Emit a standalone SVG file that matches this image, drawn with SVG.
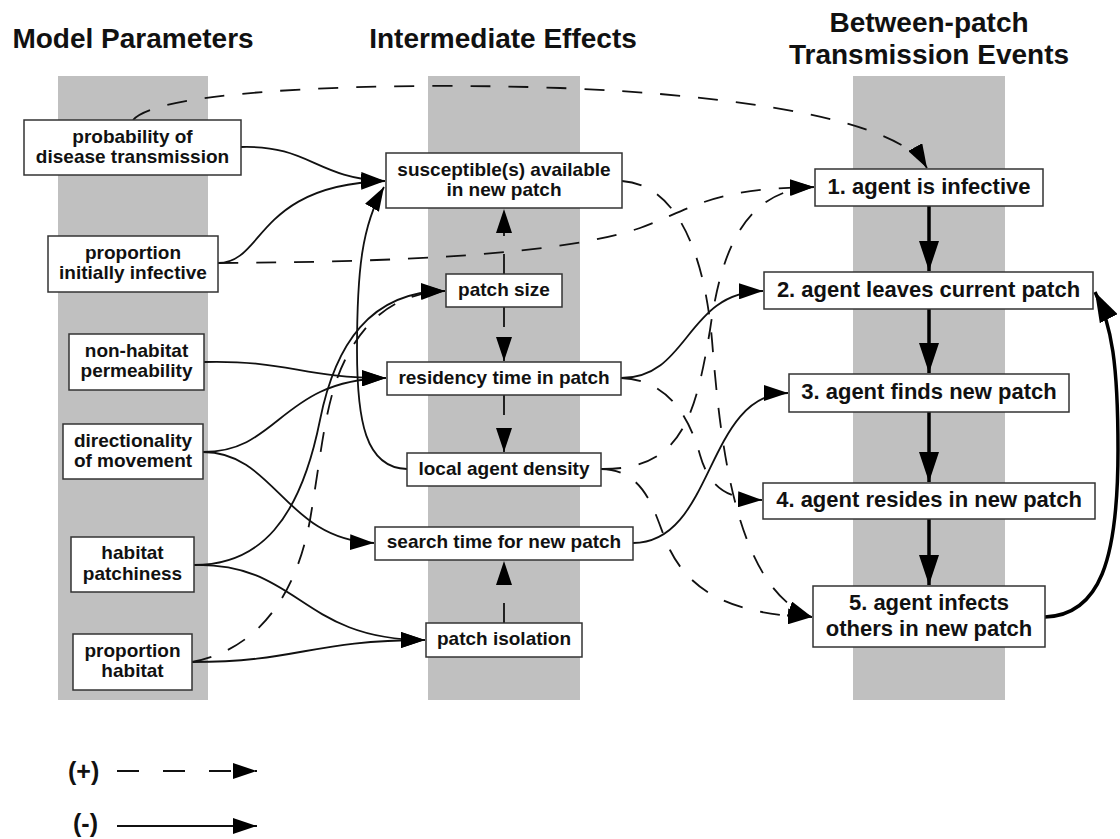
<svg xmlns="http://www.w3.org/2000/svg" width="1120" height="839" viewBox="0 0 1120 839">
<style>
.col{fill:#c0c0c0}
.box{fill:#fff;stroke:#333;stroke-width:1.5}
text{font-family:"Liberation Sans",Arial,sans-serif;font-weight:bold;fill:#111;text-anchor:middle}
.h{font-size:28px}
.s{font-size:19px}
.b{font-size:22px}
.lg{font-size:25px;text-anchor:start}
.neg{fill:none;stroke:#111;stroke-width:1.8;marker-end:url(#ah)}
.pos{fill:none;stroke:#111;stroke-width:1.8;stroke-dasharray:20 18;marker-end:url(#ah)}
.thk{fill:none;stroke:#000;stroke-width:3.5;marker-end:url(#ahT)}
</style>
<defs>
<marker id="ah" viewBox="0 0 24 16" markerWidth="24" markerHeight="16" refX="24" refY="8" orient="auto" markerUnits="userSpaceOnUse"><path d="M0,0 L24,8 L0,16 z" fill="#000"/></marker>
<marker id="ahT" viewBox="0 0 30 20" markerWidth="30" markerHeight="20" refX="30" refY="10" orient="auto" markerUnits="userSpaceOnUse"><path d="M0,0 L30,10 L0,20 z" fill="#000"/></marker>
</defs>
<rect width="1120" height="839" fill="#fff"/>
<g id="columns">
<rect class="col" x="58" y="76" width="150" height="624"/>
<rect class="col" x="428" y="76" width="152" height="624"/>
<rect class="col" x="853" y="76" width="152" height="624"/>
</g>
<g id="headers">
<text class="h" x="133" y="48">Model Parameters</text>
<text class="h" x="503" y="48">Intermediate Effects</text>
<text class="h" x="929" y="32">Between-patch</text>
<text class="h" x="929" y="64">Transmission Events</text>
</g>
<g id="connectors">
<path class="neg" d="M241,147 C310,145 315,178 385,181"/>
<path class="neg" d="M218,263 C265,263 255,185 385,181"/>
<path class="neg" d="M407,469 C365,468 357,420 357,350 C357,270 362,225 384,187"/>
<path class="neg" d="M204,362 C290,360 300,378 386,378"/>
<path class="neg" d="M203,452 C280,452 280,380 386,378"/>
<path class="neg" d="M203,452 C275,452 285,540 374,543"/>
<path class="neg" d="M194,565 C260,565 300,520 320,420 C335,345 370,291 445,291"/>
<path class="neg" d="M194,565 C300,563 300,640 425,640"/>
<path class="neg" d="M192,662 C300,662 310,640 425,640"/>
<path class="neg" d="M621,378 C690,378 685,292 763,291"/>
<path class="neg" d="M633,543 C715,543 705,393 788,393"/>
<path class="pos" d="M133,120 C160,88 400,82 560,88 C740,95 900,120 927,168"/>
<path class="pos" d="M218,263 C400,262 560,255 640,228 C690,210 710,188 814,187"/>
<path class="pos" d="M601,469 C680,470 695,420 710,330 C720,260 740,190 814,187"/>
<path class="pos" d="M622,181 C680,185 705,260 712,340 C720,440 735,590 812,617"/>
<path class="pos" d="M601,469 C650,470 655,520 670,550 C690,590 730,615 812,617"/>
<path class="pos" d="M621,378 C670,380 690,420 700,455 C710,490 730,499 762,500"/>
<path class="pos" d="M192,662 C255,650 295,600 310,520 C322,450 325,400 345,360 C365,320 395,293 445,291"/>
<path class="pos" d="M504,274 L504,209"/>
<path class="pos" d="M504,307 L504,361"/>
<path class="pos" d="M504,395 L504,452"/>
<path class="pos" d="M504,623 L504,561"/>
<path class="thk" d="M929,206 L929,271"/>
<path class="thk" d="M929,309 L929,373"/>
<path class="thk" d="M929,412 L929,482"/>
<path class="thk" d="M929,519 L929,585"/>
<path class="thk" d="M1045,617 C1100,615 1118,560 1118,450 C1118,365 1112,325 1095,292"/>
</g>
<g id="n-prob"><rect class="box" x="24" y="120" width="217" height="55"/><text class="s" x="132.5" y="143">probability of</text><text class="s" x="132.5" y="163">disease transmission</text></g>
<g id="n-propinf"><rect class="box" x="48" y="236" width="170" height="56"/><text class="s" x="133" y="259">proportion</text><text class="s" x="133" y="279">initially infective</text></g>
<g id="n-perm"><rect class="box" x="69" y="334" width="135" height="56"/><text class="s" x="136.5" y="357">non-habitat</text><text class="s" x="136.5" y="377">permeability</text></g>
<g id="n-dir"><rect class="box" x="63" y="424" width="140" height="55"/><text class="s" x="133" y="447">directionality</text><text class="s" x="133" y="467">of movement</text></g>
<g id="n-patchy"><rect class="box" x="71" y="537" width="123" height="55"/><text class="s" x="132.5" y="559">habitat</text><text class="s" x="132.5" y="580">patchiness</text></g>
<g id="n-prophab"><rect class="box" x="73" y="634" width="119" height="56"/><text class="s" x="132.5" y="657">proportion</text><text class="s" x="132.5" y="677">habitat</text></g>
<g id="n-susc"><rect class="box" x="386" y="153" width="236" height="55"/><text class="s" x="504" y="176">susceptible(s) available</text><text class="s" x="504" y="196">in new patch</text></g>
<g id="n-size"><rect class="box" x="446" y="274" width="116" height="33"/><text class="s" x="504" y="296">patch size</text></g>
<g id="n-resid"><rect class="box" x="387" y="362" width="234" height="33"/><text class="s" x="504" y="384">residency time in patch</text></g>
<g id="n-dens"><rect class="box" x="407" y="453" width="194" height="33"/><text class="s" x="504" y="475">local agent density</text></g>
<g id="n-search"><rect class="box" x="375" y="527" width="258" height="33"/><text class="s" x="504" y="548">search time for new patch</text></g>
<g id="n-isol"><rect class="box" x="426" y="623" width="156" height="34"/><text class="s" x="504" y="645">patch isolation</text></g>
<g id="n-e1"><rect class="box" x="815" y="169" width="228" height="37"/><text class="b" x="929" y="194">1. agent is infective</text></g>
<g id="n-e2"><rect class="box" x="764" y="272" width="329" height="37"/><text class="b" x="928.5" y="297">2. agent leaves current patch</text></g>
<g id="n-e3"><rect class="box" x="789" y="374" width="280" height="38"/><text class="b" x="929" y="399">3. agent finds new patch</text></g>
<g id="n-e4"><rect class="box" x="763" y="483" width="332" height="36"/><text class="b" x="929" y="507">4. agent resides in new patch</text></g>
<g id="n-e5"><rect class="box" x="813" y="586" width="232" height="61"/><text class="b" x="929" y="610">5. agent infects</text><text class="b" x="929" y="636">others in new patch</text></g>
<g id="legend">
<text class="lg" x="68" y="780">(+)</text>
<path d="M117,771 L257,771" fill="none" stroke="#111" stroke-width="1.8" stroke-dasharray="22 24" marker-end="url(#ah)"/>
<text class="lg" x="73" y="832">(-)</text>
<path d="M117,826 L257,826" fill="none" stroke="#111" stroke-width="1.8" marker-end="url(#ah)"/>
</g>
</svg>
